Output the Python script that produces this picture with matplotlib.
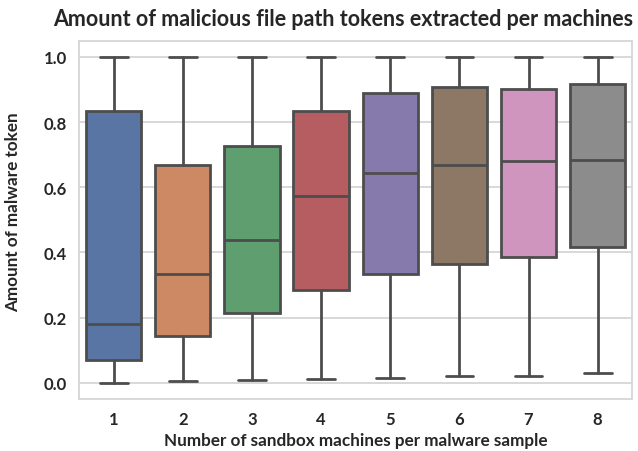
import matplotlib
matplotlib.use("Agg")
import numpy as np
import seaborn as sns
from matplotlib import pyplot as plt

# box statistics, one entry per number of machines
list_machine = ['1', '2', '3', '4', '5', '6', '7', '8']
list_low = [0.0, 0.005, 0.008, 0.01, 0.015, 0.02, 0.022, 0.03]
list_q1 = [0.07, 0.143, 0.214, 0.286, 0.333, 0.364, 0.387, 0.415]
list_med = [0.18, 0.333, 0.437, 0.572, 0.643, 0.667, 0.68, 0.682]
list_q3 = [0.835, 0.667, 0.727, 0.835, 0.889, 0.909, 0.9, 0.918]
list_high = [1.0, 1.0, 1.0, 1.0, 1.0, 1.0, 1.0, 1.0]

sns.set_style("whitegrid")
plt.rcParams['font.family'] = ['Lato', 'DejaVu Sans']
plt.rcParams['font.weight'] = 'bold'

list_color = sns.color_palette("deep", 8, desat=0.75)
col_line = '#4d4d4d'

list_stat = []
for i in range(len(list_machine)):
    list_stat.append({'whislo': list_low[i], 'q1': list_q1[i], 'med': list_med[i],
                      'q3': list_q3[i], 'whishi': list_high[i], 'fliers': [],
                      'label': list_machine[i]})

fig = plt.figure(figsize=(6.38, 4.52), dpi=100)
ax = fig.add_axes([0.124, 0.115, 0.867, 0.793])
bp = ax.bxp(list_stat, positions=range(len(list_machine)), widths=0.8, patch_artist=True,
            showfliers=False,
            boxprops=dict(edgecolor=col_line, linewidth=2),
            medianprops=dict(color=col_line, linewidth=2),
            whiskerprops=dict(color=col_line, linewidth=2),
            capprops=dict(color=col_line, linewidth=2),
            capwidths=0.4)
for patch, c in zip(bp['boxes'], list_color):
    patch.set_facecolor(c)

ax.set_xlim(-0.5, 7.5)
ax.set_ylim(-0.05, 1.05)
ax.set_yticks([0.0, 0.2, 0.4, 0.6, 0.8, 1.0])
ax.set_yticklabels(['0.0', '0.2', '0.4', '0.6', '0.8', '1.0'])
ax.xaxis.grid(False)
ax.yaxis.grid(True, color='#d6d6d6', linewidth=1.3)
for s in ax.spines.values():
    s.set_color('#d6d6d6')
    s.set_linewidth(1.3)
ax.tick_params(axis='both', labelsize=12, colors='#262626', length=0)
ax.tick_params(axis='x', pad=8.5)
ax.tick_params(axis='y', pad=9)
ax.set_xlabel('Number of sandbox machines per malware sample', fontsize=12.3, fontweight='bold', labelpad=4)
ax.set_ylabel('Amount of malware token', fontsize=12.3, fontweight='bold', labelpad=5)
ax.yaxis.set_label_coords(-0.105, 0.525)
ax.set_title('Amount of malicious file path tokens extracted per machines', fontsize=15.5,
             fontweight='bold', pad=11, x=0.478)
fig.savefig('out.png', dpi=100)
